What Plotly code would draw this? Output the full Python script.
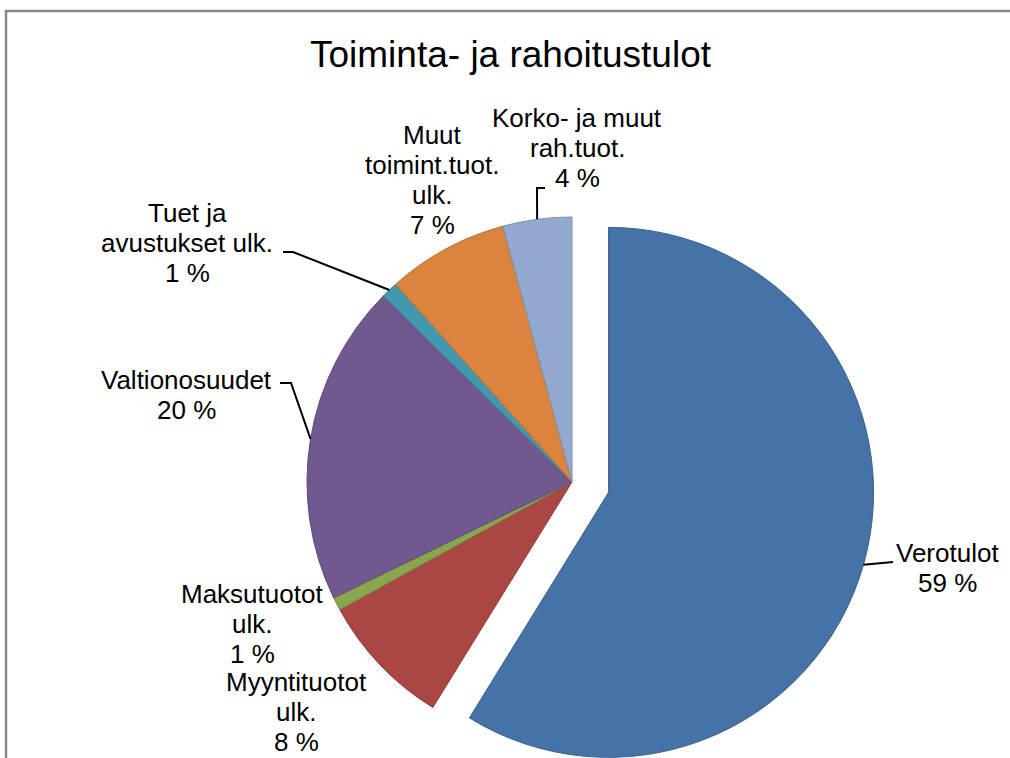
import math
import plotly.graph_objects as go

# ---- data ----
title_text = "Toiminta- ja rahoitustulot"
labels = ["Verotulot", "Myyntituotot ulk.", "Maksutuotot ulk.", "Valtionosuudet",
          "Tuet ja avustukset ulk.", "Muut toimint.tuot. ulk.", "Korko- ja muut rah.tuot."]
label_lines = [["Verotulot"], ["Myyntituotot", "ulk."], ["Maksutuotot", "ulk."], ["Valtionosuudet"],
               ["Tuet ja", "avustukset ulk."], ["Muut", "toimint.tuot.", "ulk."], ["Korko- ja muut", "rah.tuot."]]
values = [58.8, 8.2, 0.8, 19.6, 1.0, 7.4, 4.2]
colors = ["#4572A7", "#AA4643", "#89A54E", "#71588F", "#4198AF", "#DB843D", "#93A9CF"]

# ---- layout / style ----
W, H = 1010, 758
CX, CY, R = 572, 482, 265
EXPLODE_PX = 38          # explosion of first slice
FONT = "Liberation Sans, Arial, sans-serif"
LABEL_SIZE = 26
TITLE_SIZE = 37
LINE_H = 30.0
label_pos = [(947, 568), (296, 712), (252, 623.5), (186, 395.5), (187, 243), (432, 179.5), (577, 148)]
leader_stubs = {0: [(893, 562)], 3: [(280, 383), (291, 383)], 4: [(283, 252), (293, 252)],
                6: [(545, 188), (537, 188)]}


def darker(hexc, f=0.85):
    h = hexc.lstrip("#")
    r, g, b = (int(h[i:i + 2], 16) for i in (0, 2, 4))
    return "rgb(%d,%d,%d)" % (r * f, g * f, b * f)


def px(x):
    return x / W


def py(y):
    return 1 - y / H


total = sum(values)
mid_angles = []
cum = 0.0
for v in values:
    mid_angles.append((cum + v / 2) / total * 2 * math.pi)
    cum += v

# offset of exploded slice along its mid-angle (clockwise from 12 o'clock)
ex_dx = EXPLODE_PX * math.sin(mid_angles[0])
ex_dy = -EXPLODE_PX * math.cos(mid_angles[0])


def domain(cx, cy):
    return dict(x=[px(cx - R), px(cx + R)], y=[max(0, py(cy + R)), min(1, py(cy - R))])


transparent = "rgba(0,0,0,0)"
fig = go.Figure()
# main pie (all but exploded slice)
fig.add_trace(go.Pie(
    labels=labels, values=values, sort=False, direction="clockwise", rotation=0,
    marker=dict(colors=[transparent] + colors[1:],
                line=dict(color=[transparent] + [darker(c) for c in colors[1:]], width=1)),
    textinfo="none", hoverinfo="skip", showlegend=False,
    domain=domain(CX, CY)))
# exploded slice
fig.add_trace(go.Pie(
    labels=labels, values=values, sort=False, direction="clockwise", rotation=0,
    marker=dict(colors=[colors[0]] + [transparent] * (len(values) - 1),
                line=dict(color=[darker(colors[0])] + [transparent] * (len(values) - 1), width=1)),
    textinfo="none", hoverinfo="skip", showlegend=False,
    domain=domain(CX + ex_dx, CY + ex_dy)))

annotations = [dict(text=title_text, x=px(511), y=py(55), xref="paper", yref="paper",
                    showarrow=False, xanchor="center", yanchor="middle",
                    font=dict(family=FONT, size=TITLE_SIZE, color="#000000"))]
for i, (lines, v) in enumerate(zip(label_lines, values)):
    pct = round(v / total * 100)
    all_lines = lines + [f"{pct} %"]
    n = len(all_lines)
    cx, cy = label_pos[i]
    for k, line in enumerate(all_lines):
        ly = cy + (k - (n - 1) / 2) * LINE_H
        annotations.append(dict(text=line, x=px(cx), y=py(ly),
                                xref="paper", yref="paper", showarrow=False, xanchor="center",
                                yanchor="middle", align="center", borderpad=0,
                                font=dict(family=FONT, size=LABEL_SIZE, color="#000000")))

shapes = []
for i, pts in leader_stubs.items():
    cx, cy = (CX + ex_dx, CY + ex_dy) if i == 0 else (CX, CY)
    a = mid_angles[i]
    ex, ey = cx + R * math.sin(a), cy - R * math.cos(a)
    allp = pts + [(ex, ey)]
    path = "M " + " L ".join(f"{px(x):.5f},{py(y):.5f}" for x, y in allp)
    shapes.append(dict(type="path", path=path, xref="paper", yref="paper",
                       line=dict(color="#000000", width=2)))
# chart frame
shapes.append(dict(type="rect", xref="paper", yref="paper", x0=px(6), x1=px(W + 5),
                   y0=py(H + 5), y1=py(11), line=dict(color="#878787", width=2.5)))

fig.update_layout(width=W, height=H, margin=dict(l=0, r=0, t=0, b=0),
                  paper_bgcolor="white", plot_bgcolor="white",
                  annotations=annotations, shapes=shapes, showlegend=False)
fig.write_html("out.html", config={"displayModeBar": False},
               post_script="document.body.style.margin='0';document.body.style.overflow='hidden';")
